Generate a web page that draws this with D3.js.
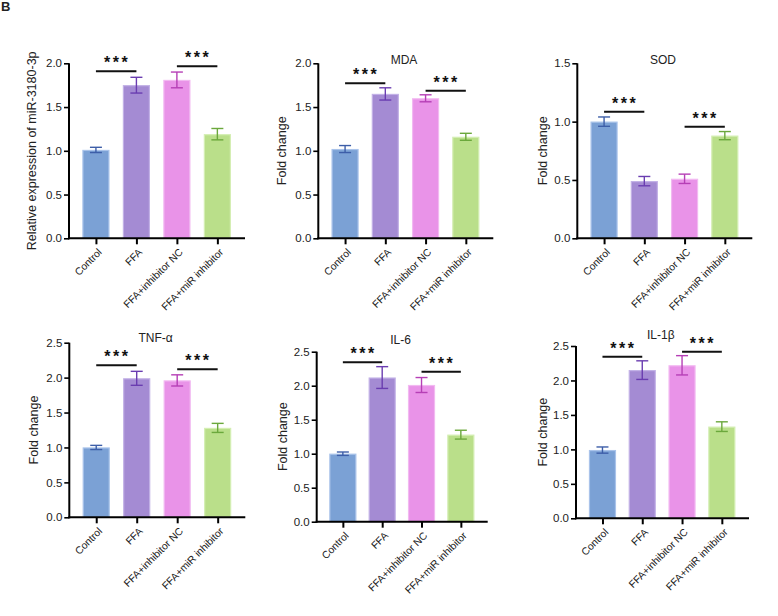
<!DOCTYPE html>
<html><head><meta charset="utf-8">
<script src="https://cdn.jsdelivr.net/npm/d3@7"></script>
<style>body{margin:0;background:#fff}svg{display:block;font-family:"Liberation Sans",Arial,sans-serif}</style>
</head><body><svg id="c" width="778" height="616"></svg>
<script>
const categories = ["Control","FFA","FFA+inhibitor NC","FFA+miR inhibitor"];
const panelTitles = ["", "MDA", "SOD", "TNF-\u03b1", "IL-6", "IL-1\u03b2"];
const yLabels = ["Relative expression of miR-3180-3p","Fold change","Fold change","Fold change","Fold change","Fold change"];
const yMaxes = [2.0, 2.0, 1.5, 2.5, 2.5, 2.5];
const yTicks = [[0,0.5,1,1.5,2],[0,0.5,1,1.5,2],[0,0.5,1,1.5],[0,0.5,1,1.5,2,2.5],[0,0.5,1,1.5,2,2.5],[0,0.5,1,1.5,2,2.5]];
const means = [
  [1.01, 1.75, 1.81, 1.19],
  [1.02, 1.65, 1.60, 1.16],
  [1.00, 0.49, 0.51, 0.88],
  [1.00, 1.99, 1.96, 1.28],
  [1.00, 2.12, 2.01, 1.28],
  [0.99, 2.15, 2.22, 1.33]
];
const errors = [
  [0.03, 0.09, 0.09, 0.065],
  [0.04, 0.07, 0.04, 0.04],
  [0.04, 0.04, 0.04, 0.035],
  [0.03, 0.10, 0.08, 0.065],
  [0.025, 0.16, 0.11, 0.065],
  [0.045, 0.135, 0.14, 0.07]
];
// significance brackets: [from, to, height in data units, label]
const sigs = [
  [[0,1,1.91,"***"],[2,3,1.966,"***"]],
  [[0,1,1.771,"***"],[2,3,1.687,"***"]],
  [[0,1,1.085,"***"],[2,3,0.957,"***"]],
  [[0,1,2.176,"***"],[2,3,2.119,"***"]],
  [[0,1,2.344,"***"],[2,3,2.206,"***"]],
  [[0,1,2.345,"***"],[2,3,2.417,"***"]]
];

const fills = ["#7ba1d5","#a48bd3","#e993e8","#badf8a"];
const edges = ["#a9c3ea","#c2b1e6","#f2b9f1","#d4eeb3"];
const errCols = ["#3d5ea8","#6a3db0","#b63fb6","#6ba83c"];

// layout: x0 (y-axis), width of x-axis, top pixel, bottom pixel, yLabel x, title y
const layout = [
  {x0:69,  w:176, top:63.3, bot:238.3, lx:32,  ty:null},
  {x0:318.3,w:175, top:63.3, bot:238.3, lx:282, ty:60},
  {x0:577.3,w:175, top:63.3, bot:238.3, lx:542.3, ty:60},
  {x0:69.3, w:176, top:342.7,bot:517.3, lx:33.3, ty:338},
  {x0:316.7,w:171, top:351.7,bot:521.7, lx:282.3, ty:340},
  {x0:576,  w:173, top:346,  bot:518.3, lx:542.3, ty:335}
];

const svg = d3.select("#c");
svg.append("text").attr("x",1).attr("y",11).attr("font-size",13).attr("font-weight","bold").attr("fill","#222").text("B");

layout.forEach((L,i)=>{
  const g = svg.append("g");
  const x = d3.scalePoint().domain(categories).range([L.x0 + L.w*0.153, L.x0 + L.w*0.843]);
  const y = d3.scaleLinear().domain([0, yMaxes[i]]).range([L.bot, L.top]);
  const bw = 27;

  // bars
  g.selectAll("rect.bar").data(means[i]).join("rect")
    .attr("x",(d,j)=>x(categories[j])-bw/2+0.5).attr("width",bw-1)
    .attr("y",d=>y(d)+0.5).attr("height",d=>L.bot-y(d)-0.5)
    .attr("fill",(d,j)=>fills[j]).attr("stroke",(d,j)=>edges[j]).attr("stroke-width",1.2);

  // error bars
  means[i].forEach((m,j)=>{
    const cx = x(categories[j]), e = errors[i][j], c = errCols[j];
    const eg = g.append("g").attr("stroke",c).attr("stroke-width",1.4).attr("fill","none");
    eg.append("line").attr("x1",cx).attr("x2",cx).attr("y1",y(m+e)).attr("y2",y(m-e));
    eg.append("line").attr("x1",cx-6).attr("x2",cx+6).attr("y1",y(m+e)).attr("y2",y(m+e));
    eg.append("line").attr("x1",cx-6).attr("x2",cx+6).attr("y1",y(m-e)).attr("y2",y(m-e));
  });

  // y axis
  const ya = g.append("g").attr("transform",`translate(${L.x0},0)`)
    .call(d3.axisLeft(y).tickValues(yTicks[i]).tickFormat(d3.format(".1f")).tickSizeOuter(0).tickSize(5).tickPadding(2));
  ya.select(".domain").attr("stroke","#000").attr("stroke-width",2).attr("d",`M0,${L.bot+1}V${L.top}`);
  ya.selectAll(".tick line").attr("stroke","#000").attr("stroke-width",1.6);
  ya.selectAll(".tick text").attr("font-size",11.5).attr("fill","#222").attr("font-family","Liberation Sans, Arial, sans-serif");

  // x axis
  const xa = g.append("g").attr("transform",`translate(0,${L.bot})`)
    .call(d3.axisBottom(x).tickSizeOuter(0).tickSize(6).tickFormat(()=>""));
  xa.select(".domain").attr("stroke","#000").attr("stroke-width",2).attr("d",`M${L.x0-1},0H${L.x0+L.w}`);
  xa.selectAll(".tick line").attr("stroke","#000").attr("stroke-width",2);
  categories.forEach(c=>{
    g.append("text").attr("transform",`translate(${x(c)+4},${L.bot+12}) rotate(-45)`)
      .attr("text-anchor","end").attr("dy","0.35em").attr("font-size",10.3).attr("fill","#222").text(c);
  });

  // y label
  g.append("text").attr("transform",`translate(${L.lx},${(L.top+L.bot)/2}) rotate(-90)`)
    .attr("text-anchor","middle").attr("dy","0.35em").attr("font-size",12.5).attr("fill","#222").text(yLabels[i]);

  // title
  if (panelTitles[i]) {
    g.append("text").attr("x",L.x0 + L.w*0.49).attr("y",L.ty).attr("dy","0.35em")
      .attr("text-anchor","middle").attr("font-size",12).attr("fill","#222").text(panelTitles[i]);
  }

  // significance
  sigs[i].forEach(s=>{
    const x1 = x(categories[s[0]]), x2 = x(categories[s[1]]), yy = y(s[2]);
    g.append("line").attr("x1",x1).attr("x2",x2).attr("y1",yy).attr("y2",yy).attr("stroke","#111").attr("stroke-width",2);
    g.append("text").attr("x",(x1+x2)/2 + 1).attr("y",yy-3).attr("text-anchor","middle")
      .attr("font-size",16).attr("letter-spacing",2.5).attr("font-weight","bold").attr("fill","#111").text(s[3]);
  });
});
</script></body></html>
